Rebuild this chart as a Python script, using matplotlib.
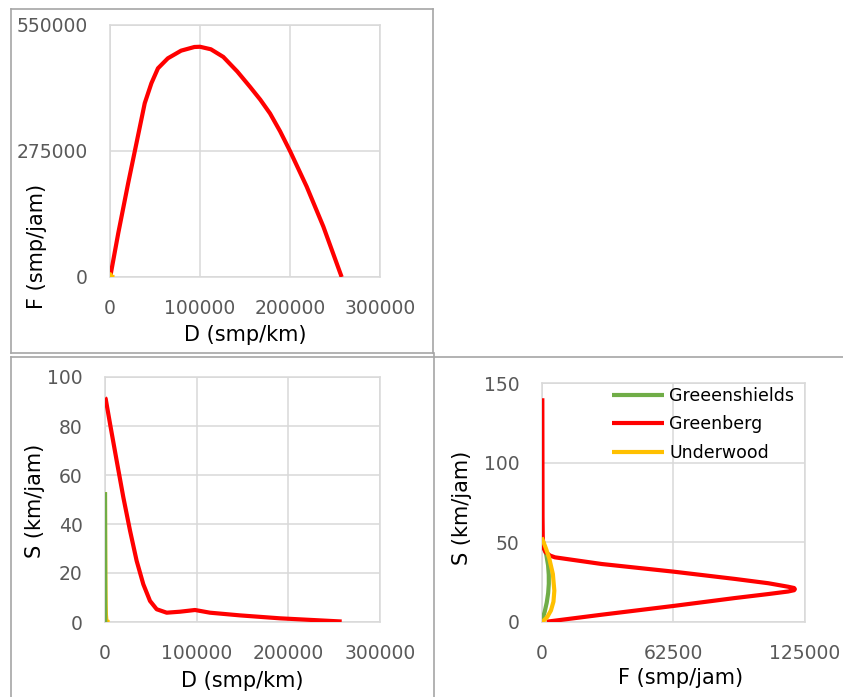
import matplotlib
matplotlib.use("Agg")
import matplotlib.pyplot as plt
from matplotlib.lines import Line2D

W, H = 843, 697

gs_density = [0, 30, 60, 90, 120, 150, 180, 210, 240, 272]
gs_speed = [53, 47, 41, 35.5, 29.5, 23.8, 18, 12, 6.2, 0]
gs_flow = [0, 1340, 2330, 3030, 3360, 3380, 3070, 2390, 1410, 0]

# Underwood
uw_density = [0, 50, 100, 200, 350, 500, 700, 1000, 1500, 2500, 5000]
uw_speed = [53, 46, 40, 30, 19.5, 12.6, 7.1, 3.0, 0.7, 0.04, 0]
uw_flow = [0, 2030, 3550, 5300, 6000, 5580, 4400, 2650, 930, 90, 0]

# Greenberg, flow vs density (top panel)
gb_fd_density = [0, 700, 9200, 20200, 29400, 38600, 46000, 53300, 64300, 79000,
                 93800, 100000, 112100, 125900, 141500, 155600, 167000, 177800,
                 189000, 200000, 218500, 237000, 257400]
gb_fd_flow = [0, 5100, 95900, 204900, 292100, 379300, 422900, 455500, 477300,
              494000, 502000, 502500, 497000, 480300, 448300, 415000, 387000,
              357000, 318000, 275000, 197400, 110300, 0]

# Greenberg, speed vs density (bottom left)
gb_sd_density = [0, 700, 5500, 12700, 20000, 27300, 34500, 41800, 49100, 56400,
                 67300, 81800, 98200, 114500, 147300, 190900, 258200]
gb_sd_speed = [91.5, 91.2, 80.9, 65.9, 50.9, 37.3, 25.0, 15.4, 8.6, 5.2, 3.8,
               4.2, 4.9, 3.8, 2.7, 1.5, 0.2]

# Greenberg, speed vs flow (bottom right)
gb_sf_flow = [2400, 28500, 62500, 91800, 107600, 117000, 119800, 120200, 119800,
              117000, 107600, 91800, 62500, 28500, 6300, 4000, 1800, 800, 500,
              400, 300]
gb_sf_speed = [0, 4.4, 9.9, 14.9, 17.4, 19.0, 19.8, 20.5, 21.2, 22.0, 24.2,
               26.9, 31.5, 36.3, 40.5, 41.6, 43.8, 46.5, 53.5, 66, 140.6]

GREEN = "#70AD47"
RED = "#FF0000"
YELLOW = "#FFC000"
GRID = "#D9D9D9"
TICK = "#595959"

plt.rcParams['font.family'] = ['DejaVu Sans']

fig = plt.figure(figsize=(W / 100, H / 100), dpi=100)


def px_rect(x0, y0, x1, y1):
  return [x0 / W, 1 - y1 / H, (x1 - x0) / W, (y1 - y0) / H]


def style(ax, xlim, xticks, ylim, yticks, xlabel, ylabel, xl_pos, yl_pos):
  ax.set_xlim(*xlim)
  ax.set_ylim(*ylim)
  ax.set_xticks(xticks)
  ax.set_yticks(yticks)
  ax.grid(True, color=GRID, lw=1.1, zorder=0)
  ax.set_axisbelow(True)
  for s in ax.spines.values():
    s.set_color(GRID)
    s.set_linewidth(1.1)
  ax.tick_params(length=0, labelsize=13.5, labelcolor=TICK)
  ax.tick_params(axis='x', pad=16)
  ax.tick_params(axis='y', pad=16)
  ax.set_xlabel(xlabel, fontsize=15)
  ax.set_ylabel(ylabel, fontsize=15)
  ax.xaxis.set_label_coords(*xl_pos)
  ax.yaxis.set_label_coords(*yl_pos)


def draw_lines(ax, series, green_on_top=False):
  for x, y, c, name in series:
    z = 4 if (green_on_top and c == GREEN) else 3
    ax.plot(x, y, color=c, lw=3, label=name, solid_capstyle='butt',
            solid_joinstyle='round', zorder=z)


# Top-left: F vs D
ax1 = fig.add_axes(px_rect(110, 25, 380, 277))
draw_lines(ax1, [
  (gs_density, gs_flow, GREEN, "Greeenshields"),
  (gb_fd_density, gb_fd_flow, RED, "Greenberg"),
  (uw_density, uw_flow, YELLOW, "Underwood"),
])
style(ax1, (0, 300000), [0, 100000, 200000, 300000], (0, 550000),
      [0, 275000, 550000], "D (smp/km)", "F (smp/jam)", (0.5, -0.19), (-0.233, 0.12))

# Bottom-left: S vs D
ax2 = fig.add_axes(px_rect(105, 377, 380, 622))
draw_lines(ax2, [
  (gs_density, gs_speed, GREEN, "Greeenshields"),
  (gb_sd_density, gb_sd_speed, RED, "Greenberg"),
  (uw_density, uw_speed, YELLOW, "Underwood"),
], green_on_top=True)
style(ax2, (0, 300000), [0, 100000, 200000, 300000], (0, 100),
      [0, 20, 40, 60, 80, 100], "D (smp/km)", "S (km/jam)", (0.5, -0.2), (-0.219, 0.495))

# Bottom-right: S vs F
ax3 = fig.add_axes(px_rect(541.7, 383.3, 805, 621.7))
draw_lines(ax3, [
  (gs_flow, gs_speed, GREEN, "Greeenshields"),
  (gb_sf_flow, gb_sf_speed, RED, "Greenberg"),
  (uw_flow, uw_speed, YELLOW, "Underwood"),
])
style(ax3, (0, 125000), [0, 62500, 125000], (0, 150), [0, 50, 100, 150],
      "F (smp/jam)", "S (km/jam)", (0.528, -0.194), (-0.265, 0.476))
ax3.legend(loc='upper left', bbox_to_anchor=(0.266, 0.985), frameon=False,
           fontsize=12.5, handlelength=3.0, handletextpad=0.3, borderpad=0,
           borderaxespad=0, labelspacing=0.6)

# table cell borders
BORDER = "#A6A6A6"
segs = [
  ((11, 9), (433, 9)), ((11, 9), (11, 353)), ((433, 9), (433, 353)),
  ((11, 353), (433, 353)), ((11, 357), (843, 357)), ((11, 357), (11, 697)),
  ((434, 353), (434, 697)),
]
for (xa, ya), (xb, yb) in segs:
  fig.add_artist(Line2D([xa / W, xb / W], [1 - ya / H, 1 - yb / H],
                        color=BORDER, lw=1.2, transform=fig.transFigure))

fig.savefig("out.png", dpi=100, facecolor="white")
